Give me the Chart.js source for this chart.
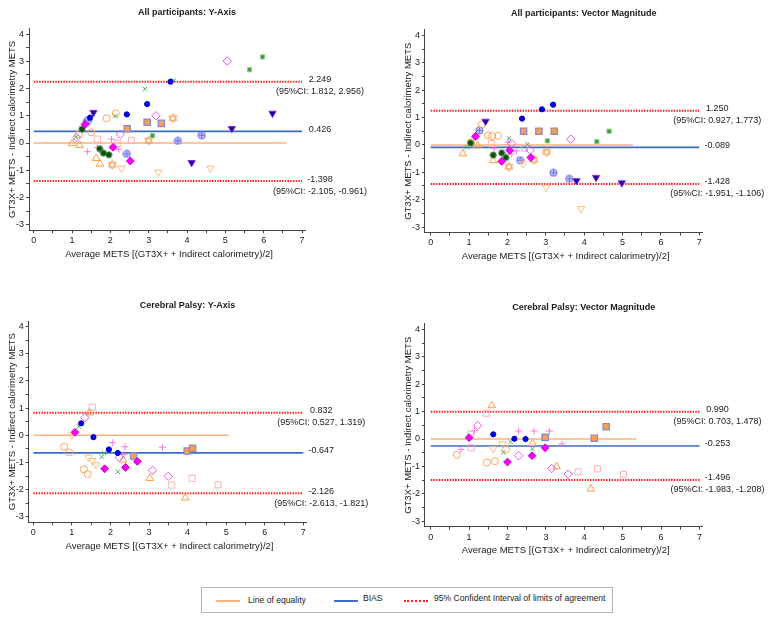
<!DOCTYPE html>
<html>
<head>
<meta charset="utf-8">
<script src="https://cdn.jsdelivr.net/npm/chart.js@4.4.1/dist/chart.umd.min.js"></script>
<style>
  body { margin: 0; background: #fff; width: 773px; height: 621px; position: relative; overflow: hidden;
         font-family: "Liberation Sans", Arial, sans-serif; }
  canvas { position: absolute; }
  #legend { position: absolute; left: 201px; top: 587px; width: 412px; height: 26px; box-sizing: border-box;
            border: 1px solid #b4b4b4; font-size: 8.6px; color: #222; }
  .sw { position: absolute; top: 12px; height: 0; width: 24px; }
  .lb { position: absolute; top: 7px; white-space: nowrap; }
</style>
</head>
<body>
<canvas id="c1" width="386" height="290" style="left:0;top:0"></canvas>
<canvas id="c2" width="387" height="290" style="left:386px;top:0"></canvas>
<canvas id="c3" width="386" height="290" style="left:0;top:290px"></canvas>
<canvas id="c4" width="387" height="290" style="left:386px;top:290px"></canvas>

<div id="legend">
  <span class="sw" style="left:14px;border-top:2px solid #ffb27f"></span>
  <span class="lb" style="left:46px">Line of equality</span>
  <span class="sw" style="left:132px;border-top:2px solid #3a6cc0"></span>
  <span class="lb" style="left:161px;top:5px">BIAS</span>
  <span class="sw" style="left:202px;border-top:2px dotted #ff2020"></span>
  <span class="lb" style="left:232px;top:5px">95% Confident Interval of limits of agreement</span>
</div>

<script>
// ---- tick values ----
const xTickVals = [0, 0.5, 1, 1.5, 2, 2.5, 3, 3.5, 4, 4.5, 5, 5.5, 6, 6.5, 7];
const yTickVals = [-3, -2.5, -2, -1.5, -1, -0.5, 0, 0.5, 1, 1.5, 2, 2.5, 3, 3.5, 4];

// ---- panel stats ----
const panelTitles = ['All participants: Y-Axis', 'All participants: Vector Magnitude',
                     'Cerebral Palsy: Y-Axis', 'Cerebral Palsy: Vector Magnitude'];
const biasVals = [0.426, -0.089, -0.647, -0.253];
const upperLoA = [2.249, 1.250, 0.832, 0.990];
const lowerLoA = [-1.398, -1.428, -2.126, -1.496];
const upperCI = ['(95%CI: 1.812, 2.956)', '(95%CI: 0.927, 1.773)', '(95%CI: 0.527, 1.319)', '(95%CI: 0.703, 1.478)'];
const lowerCI = ['(95%CI: -2.105, -0.961)', '(95%CI: -1.951, -1.106)', '(95%CI: -2.613, -1.821)', '(95%CI: -1.983, -1.208)'];
const equalityEnd = [6.6, 5.27, 5.07, 5.36];

// ---- All participants: Y-Axis  [average, difference] ----
const allY_dot = [[3.57, 2.25], [2.96, 1.43], [2.43, 1.05], [1.47, 0.93]];
const allY_triDownFill = [[1.56, 1.12], [6.23, 1.09], [5.17, 0.53], [4.12, -0.72]];
const allY_xGreen = [[3.66, 2.3], [2.9, 1.98], [2.13, 0.99], [1.1, 0.21]];
const allY_sqGreen = [[5.97, 3.16], [5.63, 2.69], [3.1, 0.27]];
const allY_diamondOpen = [[5.05, 3.01], [3.19, 1.0], [2.26, 0.32], [1.12, 0.2]];
const allY_diamondFill = [[1.34, 0.68], [2.07, -0.16], [2.52, -0.66]];
const allY_darkStar = [[1.26, 0.51], [1.72, -0.21], [1.82, -0.37], [1.96, -0.43]];
const allY_circleOpen = [[1.9, 0.91], [2.14, 1.09], [1.5, 0.39], [1.18, 0.32]];
const allY_triOpen = [[1.0, -0.02], [1.2, -0.08], [1.63, -0.56], [1.73, -0.77]];
const allY_triDownOpen = [[2.29, -0.93], [3.25, -1.08], [4.61, -0.93]];
const allY_hexStar = [[3.63, 0.91], [3.0, 0.09], [2.05, -0.8]];
const allY_sqPink = [[1.66, 0.14], [2.55, 0.1], [2.2, -0.01]];
const allY_sqOrange = [[2.44, 0.52], [2.96, 0.76], [3.33, 0.72]];
const allY_circlePlus = [[4.38, 0.28], [3.76, 0.08], [2.43, -0.4], [1.38, 0.78], [1.42, 0.84]];
const allY_plusPink = [[2.03, 0.14], [1.4, -0.32], [1.66, -0.18], [2.22, -0.23]];

// ---- All participants: Vector Magnitude ----
const allVM_dot = [[2.9, 1.3], [3.19, 1.47], [2.38, 0.96]];
const allVM_triDownFill = [[1.43, 0.86], [3.8, -1.31], [4.31, -1.19], [4.98, -1.39]];
const allVM_xGreen = [[2.04, 0.24], [2.52, 0.02], [0.95, -0.09]];
const allVM_sqGreen = [[3.04, 0.15], [4.33, 0.12], [4.65, 0.5]];
const allVM_diamondOpen = [[3.65, 0.21], [2.11, 0.05], [2.59, -0.19]];
const allVM_diamondFill = [[1.17, 0.31], [1.85, -0.6], [2.06, -0.2], [2.61, -0.46]];
const allVM_darkStar = [[1.04, 0.07], [1.63, -0.37], [1.85, -0.29], [1.96, -0.46]];
const allVM_circleOpen = [[1.33, 0.74], [1.49, 0.35], [1.6, 0.32], [1.76, 0.33], [1.05, 0.1]];
const allVM_triOpen = [[0.84, -0.32], [1.22, -0.03], [1.63, -0.57]];
const allVM_triDownOpen = [[2.41, -0.68], [3.01, -1.55], [3.92, -2.33]];
const allVM_hexStar = [[3.02, -0.26], [2.04, -0.8], [2.69, -0.55]];
const allVM_sqPink = [[1.58, 0.05], [2.44, -0.12]];
const allVM_sqOrange = [[2.42, 0.5], [2.82, 0.5], [3.22, 0.5]];
const allVM_circlePlus = [[1.27, 0.53], [2.33, -0.56], [3.2, -1.02], [3.61, -1.24]];
const allVM_plusPink = [[1.66, -0.12], [2.24, -0.22], [2.11, -0.34], [2.02, 0.1]];

// ---- Cerebral Palsy: Y-Axis ----
const cpY_dot = [[1.24, 0.44], [1.56, -0.07], [1.96, -0.52], [2.19, -0.65]];
const cpY_xGreen = [[1.18, 0.32], [1.77, -0.79], [1.84, -0.66], [2.19, -1.34]];
const cpY_diamondOpen = [[1.34, 0.65], [2.23, -0.81], [3.09, -1.29], [3.5, -1.51]];
const cpY_diamondFill = [[1.08, 0.11], [1.85, -1.23], [2.39, -1.18], [2.7, -0.96]];
const cpY_circleOpen = [[0.8, -0.42], [0.93, -0.63], [1.31, -1.25], [1.41, -1.42]];
const cpY_triOpen = [[1.45, 0.83], [2.33, -0.91], [3.02, -1.58], [3.94, -2.3]];
const cpY_triDownOpen = [[1.0, 0.01], [1.43, -0.81], [1.53, -0.93], [1.63, -1.09]];
const cpY_sqPink = [[1.53, 1.03], [3.59, -1.83], [4.12, -1.58], [4.79, -1.82]];
const cpY_sqOrange = [[2.6, -0.76], [3.99, -0.58], [4.13, -0.48]];
const cpY_plusPink = [[2.05, -0.27], [2.38, -0.42], [3.35, -0.44], [2.35, -0.7]];

// ---- Cerebral Palsy: Vector Magnitude ----
const cpVM_dot = [[1.63, 0.17], [2.18, 0.01], [2.47, 0.0]];
const cpVM_xGreen = [[2.08, -0.1], [1.89, -0.49], [2.65, -0.36]];
const cpVM_diamondOpen = [[1.22, 0.49], [2.29, -0.61], [3.15, -1.08], [3.58, -1.28]];
const cpVM_diamondFill = [[1.0, 0.05], [2.0, -0.84], [2.64, -0.61], [2.98, -0.32]];
const cpVM_circleOpen = [[0.68, -0.58], [1.46, -0.86], [1.67, -0.81], [1.96, -0.38]];
const cpVM_triOpen = [[1.59, 1.22], [2.65, -0.16], [3.28, -1.01], [4.17, -1.82]];
const cpVM_triDownOpen = [[1.63, -0.36], [1.87, -0.18]];
const cpVM_sqPink = [[1.44, 0.94], [1.04, 0.18], [1.05, -0.32], [3.84, -1.2], [4.34, -1.09], [5.02, -1.29]];
const cpVM_sqOrange = [[2.98, 0.06], [4.26, 0.03], [4.57, 0.45]];
const cpVM_plusPink = [[0.79, -0.38], [1.14, 0.3], [2.29, 0.29], [2.69, 0.29], [3.09, 0.29], [3.42, -0.18]];

const panelData = [
  { dot: allY_dot, triDownFill: allY_triDownFill, xGreen: allY_xGreen, sqGreen: allY_sqGreen,
    diamondOpen: allY_diamondOpen, diamondFill: allY_diamondFill, darkStar: allY_darkStar,
    circleOpen: allY_circleOpen, triOpen: allY_triOpen, triDownOpen: allY_triDownOpen,
    hexStar: allY_hexStar, sqPink: allY_sqPink, sqOrange: allY_sqOrange,
    circlePlus: allY_circlePlus, plusPink: allY_plusPink },
  { dot: allVM_dot, triDownFill: allVM_triDownFill, xGreen: allVM_xGreen, sqGreen: allVM_sqGreen,
    diamondOpen: allVM_diamondOpen, diamondFill: allVM_diamondFill, darkStar: allVM_darkStar,
    circleOpen: allVM_circleOpen, triOpen: allVM_triOpen, triDownOpen: allVM_triDownOpen,
    hexStar: allVM_hexStar, sqPink: allVM_sqPink, sqOrange: allVM_sqOrange,
    circlePlus: allVM_circlePlus, plusPink: allVM_plusPink },
  { dot: cpY_dot, xGreen: cpY_xGreen, diamondOpen: cpY_diamondOpen, diamondFill: cpY_diamondFill,
    circleOpen: cpY_circleOpen, triOpen: cpY_triOpen, triDownOpen: cpY_triDownOpen,
    sqPink: cpY_sqPink, sqOrange: cpY_sqOrange, plusPink: cpY_plusPink },
  { dot: cpVM_dot, xGreen: cpVM_xGreen, diamondOpen: cpVM_diamondOpen, diamondFill: cpVM_diamondFill,
    circleOpen: cpVM_circleOpen, triOpen: cpVM_triOpen, triDownOpen: cpVM_triDownOpen,
    sqPink: cpVM_sqPink, sqOrange: cpVM_sqOrange, plusPink: cpVM_plusPink }
];

const X_TITLE = 'Average METS [(GT3X+ + Indirect calorimetry)/2]';
const Y_TITLE = 'GT3X+ METS - Indirect calorimetry METS';
const FONT = '"Liberation Sans", Arial, sans-serif';

// layout of each panel inside its canvas (pixel of x=0 / y=0 and pixels per unit)
const geom = [
  { x0: 33.7, xu: 38.33, y0: 143.0, yu: 27.24, xMin: -0.12 },
  { x0: 44.7, xu: 38.37, y0: 144.9, yu: 27.39, xMin: -0.15 },
  { x0: 33.3, xu: 38.57, y0: 145.3, yu: 27.2, xMin: -0.12 },
  { x0: 44.7, xu: 38.4, y0: 149.0, yu: 27.4, xMin: -0.15 }
];
const X_MAX = 7.08, Y_MAX = 4.2, Y_MIN = -3.2;
const Y_AXIS_W = 24, X_AXIS_H = 30;

// small custom markers
function hexagram(color) {
  const c = document.createElement('canvas');
  c.width = c.height = 11;
  const g = c.getContext('2d');
  g.strokeStyle = color;
  g.lineWidth = 1;
  [-90, 90].forEach((start) => {
    g.beginPath();
    for (let k = 0; k < 3; k++) {
      const a = (start + k * 120) * Math.PI / 180;
      const px = 5.5 + 4.6 * Math.cos(a), py = 5.5 + 4.6 * Math.sin(a);
      if (k === 0) g.moveTo(px, py); else g.lineTo(px, py);
    }
    g.closePath();
    g.stroke();
  });
  return c;
}
function circlePlus(fill, stroke) {
  const c = document.createElement('canvas');
  c.width = c.height = 9;
  const g = c.getContext('2d');
  g.beginPath();
  g.arc(4.5, 4.5, 3.6, 0, Math.PI * 2);
  g.fillStyle = fill;
  g.fill();
  g.strokeStyle = stroke;
  g.lineWidth = 1;
  g.stroke();
  g.beginPath();
  g.moveTo(1.5, 4.5); g.lineTo(7.5, 4.5);
  g.moveTo(4.5, 1.5); g.lineTo(4.5, 7.5);
  g.stroke();
  return c;
}
function darkStar(fill, edge) {
  const c = document.createElement('canvas');
  c.width = c.height = 8;
  const g = c.getContext('2d');
  g.beginPath();
  for (let k = 0; k < 16; k++) {
    const a = k * Math.PI / 8;
    const r = k % 2 ? 2.6 : 3.6;
    const px = 4 + r * Math.cos(a), py = 4 + r * Math.sin(a);
    if (k === 0) g.moveTo(px, py); else g.lineTo(px, py);
  }
  g.closePath();
  g.fillStyle = fill;
  g.fill();
  g.strokeStyle = edge;
  g.lineWidth = 0.6;
  g.stroke();
  return c;
}

const styles = {
  dot: { pointStyle: 'circle', pointRadius: 2.6, backgroundColor: '#0000f0', borderColor: '#0000c0', borderWidth: 1 },
  triDownFill: { pointStyle: 'triangle', rotation: 180, pointRadius: 4.2, backgroundColor: '#1c0096', borderColor: '#8a2be2', borderWidth: 1 },
  xGreen: { pointStyle: 'crossRot', pointRadius: 3.2, borderColor: '#52b052', borderWidth: 1 },
  sqGreen: { pointStyle: 'rect', pointRadius: 3.0, backgroundColor: '#3f9c3f', borderColor: '#8fcf8f', borderWidth: 1 },
  diamondOpen: { pointStyle: 'rectRot', pointRadius: 4.2, backgroundColor: 'transparent', borderColor: '#e455e4', borderWidth: 1 },
  diamondFill: { pointStyle: 'rectRot', pointRadius: 3.9, backgroundColor: '#ff00ff', borderColor: '#c400c4', borderWidth: 1 },
  darkStar: { pointStyle: darkStar('#0a4f0a', '#3f8f3f'), pointRadius: 4 },
  circleOpen: { pointStyle: 'circle', pointRadius: 3.5, backgroundColor: 'transparent', borderColor: '#ffa45c', borderWidth: 1 },
  triOpen: { pointStyle: 'triangle', pointRadius: 4.3, backgroundColor: 'transparent', borderColor: '#ff9a45', borderWidth: 1 },
  triDownOpen: { pointStyle: 'triangle', rotation: 180, pointRadius: 4.3, backgroundColor: 'transparent', borderColor: '#ffbd7d', borderWidth: 1 },
  hexStar: { pointStyle: hexagram('#f59f55'), pointRadius: 5 },
  sqPink: { pointStyle: 'rect', pointRadius: 4.3, backgroundColor: 'transparent', borderColor: '#ffafb4', borderWidth: 1 },
  sqOrange: { pointStyle: 'rect', pointRadius: 4.5, backgroundColor: '#f5a04a', borderColor: '#8585d8', borderWidth: 1.2 },
  circlePlus: { pointStyle: circlePlus('#c6c6fb', '#6d6de8'), pointRadius: 4.5 },
  plusPink: { pointStyle: 'cross', pointRadius: 3.4, borderColor: '#ff74ec', borderWidth: 1 }
};
const seriesKeys = Object.keys(styles);

function pairs(arr) {
  return arr.map((p) => ({ x: p[0], y: p[1] }));
}

function refLine(y, x1, color, width, dash) {
  return {
    data: [{ x: 0, y: y }, { x: x1, y: y }],
    showLine: true, fill: false, pointRadius: 0, pointHoverRadius: 0,
    borderColor: color, borderWidth: width, borderDash: dash || [], order: 2
  };
}

const textPlugin = {
  id: 'panelText',
  afterDraw(chart, args, o) {
    const { ctx, chartArea: a, scales } = chart;
    const cxArea = (a.left + a.right) / 2;
    ctx.save();
    ctx.fillStyle = '#1a1a1a';
    ctx.textAlign = 'center';
    ctx.textBaseline = 'middle';

    ctx.font = 'bold 9px ' + FONT;
    ctx.fillText(o.title, cxArea + 20, a.top - 16);

    ctx.font = '9.5px ' + FONT;
    ctx.fillText(X_TITLE, cxArea + 2, a.bottom + 24);
    ctx.save();
    ctx.translate(a.left - 16.5, (a.top + a.bottom) / 2);
    ctx.rotate(-Math.PI / 2);
    ctx.fillText(Y_TITLE, 0, 0);
    ctx.restore();

    ctx.font = '9px ' + FONT;
    const tx = scales.x.getPixelForValue(7) + 18;
    [[o.upper, o.upperCI], [o.bias, null], [o.lower, o.lowerCI]].forEach(([v, ci]) => {
      const py = scales.y.getPixelForValue(v);
      ctx.fillText(v.toFixed(3), tx, py - 2);
      if (ci) ctx.fillText(ci, tx, py + 10);
    });
    ctx.restore();
  }
};

function buildPanel(i) {
  const g = geom[i];
  const canvas = document.getElementById('c' + (i + 1));
  const W = canvas.width, H = canvas.height;
  const left = g.x0 + g.xMin * g.xu;
  const right = g.x0 + X_MAX * g.xu;
  const top = g.y0 - Y_MAX * g.yu;
  const bottom = g.y0 - Y_MIN * g.yu;

  const datasets = [
    refLine(0, equalityEnd[i], '#ffb27f', 1.5),
    refLine(biasVals[i], 7, '#3a6cc0', 1.6),
    refLine(upperLoA[i], 7, '#ff2020', 2, [1.5, 1.2]),
    refLine(lowerLoA[i], 7, '#ff2020', 2, [1.5, 1.2])
  ];
  seriesKeys.forEach((k) => {
    const d = panelData[i][k];
    if (!d || !d.length) return;
    datasets.push(Object.assign({ data: pairs(d), order: 1 }, styles[k]));
  });

  const axisCommon = {
    type: 'linear',
    grid: { drawOnChartArea: false, drawTicks: true, tickLength: 3, color: '#444' },
    border: { display: true, color: '#444', width: 1 },
    ticks: {
      autoSkip: false, maxRotation: 0, padding: 2, color: '#222',
      font: { family: FONT, size: 9 },
      callback: (v) => (Number.isInteger(v) ? String(v) : '')
    }
  };

  new Chart(canvas, {
    type: 'scatter',
    data: { datasets },
    options: {
      responsive: false,
      animation: false,
      devicePixelRatio: 1,
      layout: { padding: { left: left - Y_AXIS_W, right: W - right, top: top, bottom: H - bottom - X_AXIS_H } },
      plugins: {
        legend: { display: false },
        tooltip: { enabled: false },
        panelText: {
          title: panelTitles[i], bias: biasVals[i], upper: upperLoA[i], lower: lowerLoA[i],
          upperCI: upperCI[i], lowerCI: lowerCI[i]
        }
      },
      scales: {
        x: Object.assign({}, axisCommon, {
          min: g.xMin, max: X_MAX,
          afterBuildTicks: (ax) => { ax.ticks = xTickVals.map((v) => ({ value: v })); },
          afterFit: (ax) => { ax.height = X_AXIS_H; }
        }),
        y: Object.assign({}, axisCommon, {
          min: Y_MIN, max: Y_MAX,
          afterBuildTicks: (ax) => { ax.ticks = yTickVals.map((v) => ({ value: v })); },
          afterFit: (ax) => { ax.width = Y_AXIS_W; }
        })
      }
    },
    plugins: [textPlugin]
  });
}

[0, 1, 2, 3].forEach(buildPanel);
</script>
</body>
</html>
